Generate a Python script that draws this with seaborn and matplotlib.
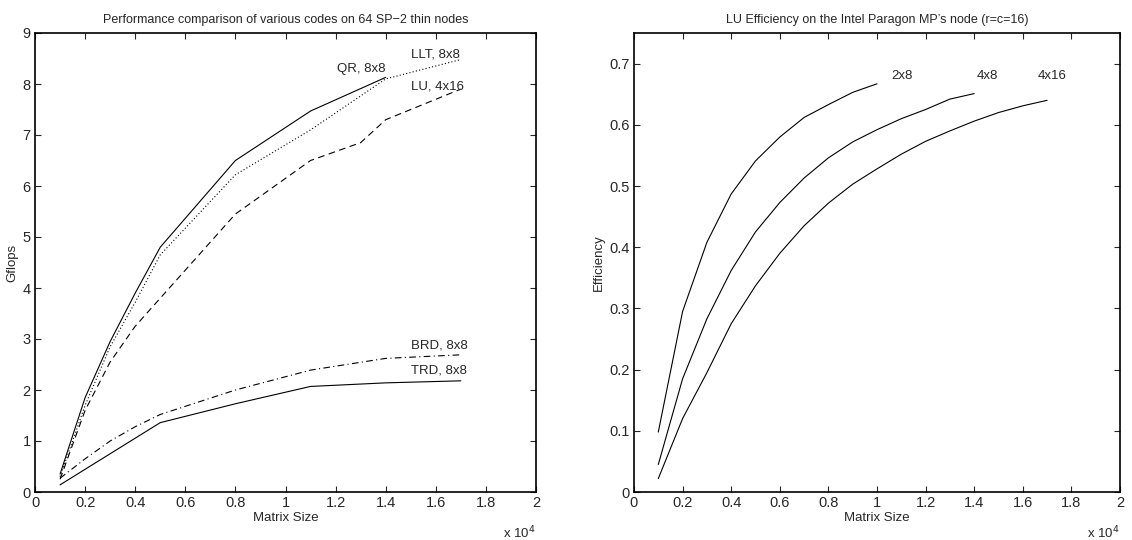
import numpy as np
import pandas as pd
import matplotlib
matplotlib.use("Agg")
import matplotlib.pyplot as plt
import seaborn as sns
from matplotlib.ticker import FormatStrFormatter

# --- Left panel: Gflops on 64 SP-2 thin nodes (x in units of 1e4) ---
qr_x = [0.1, 0.2, 0.3, 0.4, 0.5, 0.8, 1.1, 1.4]
qr_y = [0.35, 1.85, 2.95, 3.9, 4.8, 6.5, 7.47, 8.13]

llt_x = [0.1, 0.2, 0.3, 0.4, 0.5, 0.8, 1.1, 1.4, 1.7]
llt_y = [0.3, 1.7, 2.85, 3.72, 4.65, 6.22, 7.1, 8.1, 8.48]

lu_x = [0.1, 0.2, 0.3, 0.4, 0.5, 0.8, 1.1, 1.3, 1.4, 1.7]
lu_y = [0.25, 1.6, 2.55, 3.25, 3.8, 5.45, 6.5, 6.85, 7.3, 7.9]

brd_x = [0.1, 0.2, 0.3, 0.4, 0.5, 0.8, 1.1, 1.4, 1.7]
brd_y = [0.27, 0.65, 1.0, 1.28, 1.52, 2.0, 2.39, 2.62, 2.69]

trd_x = [0.1, 0.5, 0.8, 1.1, 1.4, 1.7]
trd_y = [0.14, 1.36, 1.73, 2.07, 2.14, 2.18]

left_labels = ["QR, 8x8", "LLT, 8x8", "LU, 4x16", "BRD, 8x8", "TRD, 8x8"]

# --- Right panel: LU efficiency on the Intel Paragon ---
e28_x = [0.1, 0.2, 0.3, 0.4, 0.5, 0.6, 0.7, 0.8, 0.9, 1.0]
e28_y = [0.098, 0.295, 0.408, 0.487, 0.541, 0.58, 0.612, 0.633, 0.653, 0.667]

e48_x = [0.1, 0.2, 0.3, 0.4, 0.5, 0.6, 0.7, 0.8, 0.9, 1.0, 1.1, 1.2, 1.3, 1.4]
e48_y = [0.045, 0.185, 0.283, 0.362, 0.425, 0.473, 0.513, 0.546, 0.572,
         0.592, 0.61, 0.625, 0.642, 0.651]

e416_x = [0.1, 0.2, 0.3, 0.4, 0.5, 0.6, 0.7, 0.8, 0.9, 1.0, 1.1, 1.2, 1.3,
          1.4, 1.5, 1.6, 1.7]
e416_y = [0.022, 0.12, 0.195, 0.275, 0.337, 0.39, 0.435, 0.472, 0.503,
          0.528, 0.552, 0.573, 0.59, 0.606, 0.62, 0.631, 0.64]

right_labels = ["2x8", "4x8", "4x16"]

sns.set_style("ticks")
plt.rcParams['font.family'] = ['Liberation Sans', 'DejaVu Sans']

fig = plt.figure(figsize=(11.32, 5.4), dpi=100)
W, H = 1132, 540
ax1 = fig.add_axes([35 / W, 48 / H, 501 / W, 459 / H])
ax2 = fig.add_axes([634 / W, 48 / H, 486 / W, 459 / H])

lw = 0.8
series_left = [
    (qr_x, qr_y, '-'),
    (llt_x, llt_y, (0, (1, 2))),
    (lu_x, lu_y, (0, (6, 4))),
    (brd_x, brd_y, (0, (6, 3, 1, 3))),
    (trd_x, trd_y, '-'),
]
for xs, ys, ls in series_left:
    df = pd.DataFrame({'x': xs, 'y': ys})
    sns.lineplot(data=df, x='x', y='y', ax=ax1, color='k', lw=lw,
                 linestyle=ls, sort=False)

# curve labels (left)
ax1.text(1.4, 8.17, left_labels[0], ha='right', va='bottom', fontsize=9.5)
ax1.text(1.5, 8.57, left_labels[1], ha='left', va='center', fontsize=9.5)
ax1.text(1.5, 7.96, left_labels[2], ha='left', va='center', fontsize=9.5)
ax1.text(1.5, 2.88, left_labels[3], ha='left', va='center', fontsize=9.5)
ax1.text(1.5, 2.39, left_labels[4], ha='left', va='center', fontsize=9.5)

for xs, ys in [(e28_x, e28_y), (e48_x, e48_y), (e416_x, e416_y)]:
    df = pd.DataFrame({'x': xs, 'y': ys})
    sns.lineplot(data=df, x='x', y='y', ax=ax2, color='k', lw=lw, sort=False)

ax2.text(1.06, 0.679, right_labels[0], ha='left', va='center', fontsize=9.5)
ax2.text(1.41, 0.679, right_labels[1], ha='left', va='center', fontsize=9.5)
ax2.text(1.66, 0.679, right_labels[2], ha='left', va='center', fontsize=9.5)

xticks = np.arange(0, 2.01, 0.2)
for ax in (ax1, ax2):
    ax.set_xlim(0, 2)
    ax.set_xticks(xticks)
    ax.xaxis.set_major_formatter(FormatStrFormatter('%g'))
    ax.yaxis.set_major_formatter(FormatStrFormatter('%g'))
    ax.tick_params(direction='in', top=True, right=True, length=4,
                   width=0.8, labelsize=10.5, pad=3)
    for s in ax.spines.values():
        s.set_visible(True)
        s.set_linewidth(1.2)
        s.set_color('k')
    ax.set_xlabel("Matrix Size", fontsize=9.5, labelpad=1)
    ax.text(1.0, -0.072, r"x 10$^4$", transform=ax.transAxes, ha='right',
            va='top', fontsize=9.5)

ax1.set_ylim(0, 9)
ax1.set_yticks(range(0, 10))
ax1.set_ylabel("Gflops", fontsize=9.5, labelpad=3)
ax1.set_title("Performance comparison of various codes on 64 SP\u22122 thin nodes",
              fontsize=9, pad=7)

ax2.set_ylim(0, 0.75)
ax2.set_yticks(np.arange(0, 0.71, 0.1))
ax2.set_ylabel("Efficiency", fontsize=9.5, labelpad=3)
ax2.set_title("LU Efficiency on the Intel Paragon MP\u2019s node (r=c=16)",
              fontsize=9, pad=7)

fig.savefig("out.png", dpi=100)
plt.close(fig)
